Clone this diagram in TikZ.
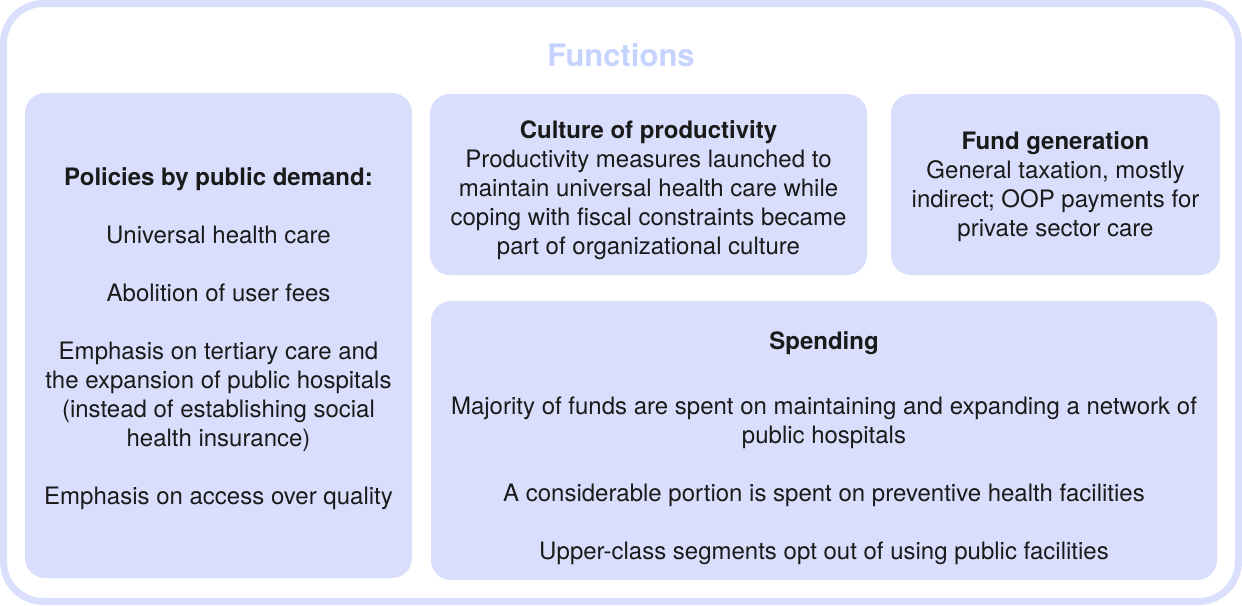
\documentclass[tikz,border=0pt]{standalone}
\usepackage{fontspec}
\setmainfont{TeX Gyre Heros}
\definecolor{boxfill}{HTML}{D9DEFD}
\definecolor{framecol}{HTML}{D9DFFC}
\definecolor{titlecol}{HTML}{C5D3FF}
\definecolor{textcol}{HTML}{1A1A1A}
\tikzset{
  panel/.style={fill=boxfill, rounded corners=10pt, inner sep=0pt},
  bodytext/.style={align=center, text=textcol, inner sep=0pt,
    font=\fontsize{12}{14.5}\selectfont},
}

\begin{document}
\begin{tikzpicture}[x=0.5pt,y=-0.5pt]
  \useasboundingbox (0,0) rectangle (1242,605);
  % outer frame and heading
  \draw[framecol, line width=3.5pt, rounded corners=20pt] (3.5,3.5) rectangle (1238.5,601.5);
  \node[font=\bfseries\fontsize{15.5}{18}\selectfont, text=titlecol] (title) at (621,55) {Functions};

  % the four panels
  \node[panel, minimum width=193.5pt, minimum height=242.5pt] (policies) at (218.5,335.5) {};
  \node[panel, minimum width=218.5pt, minimum height=90.5pt] (culture) at (648.5,184.5) {};
  \node[panel, minimum width=164.5pt, minimum height=90.5pt] (fund) at (1055.5,184.5) {};
  \node[panel, minimum width=393pt, minimum height=139.5pt] (spending) at (824,440.5) {};

  % texts of the panels
  \node[bodytext] (policiestext) at (218.5,338.5) {{\bfseries Policies by public demand:}\\[14.5pt]
    Universal health care\\[14.5pt]
    Abolition of user fees\\[14.5pt]
    Emphasis on tertiary care and\\
    the expansion of public hospitals\\
    (instead of establishing social\\
    health insurance)\\[14.5pt]
    Emphasis on access over quality};
  \node[bodytext] (culturetext) at (648.5,190.5) {{\bfseries Culture of productivity}\\
    Productivity measures launched to\\
    maintain universal health care while\\
    coping with fiscal constraints became\\
    part of organizational culture};
  \node[bodytext] (fundtext) at (1055.5,186.5) {{\bfseries Fund generation}\\
    General taxation, mostly\\
    indirect; OOP payments for\\
    private sector care};
  \node[bodytext] (spendingtext) at (824,448.5) {{\bfseries Spending}\\[18pt]
    Majority of funds are spent on maintaining and expanding a network of\\
    public hospitals\\[14.5pt]
    A considerable portion is spent on preventive health facilities\\[14.5pt]
    Upper-class segments opt out of using public facilities};
\end{tikzpicture}
\end{document}
